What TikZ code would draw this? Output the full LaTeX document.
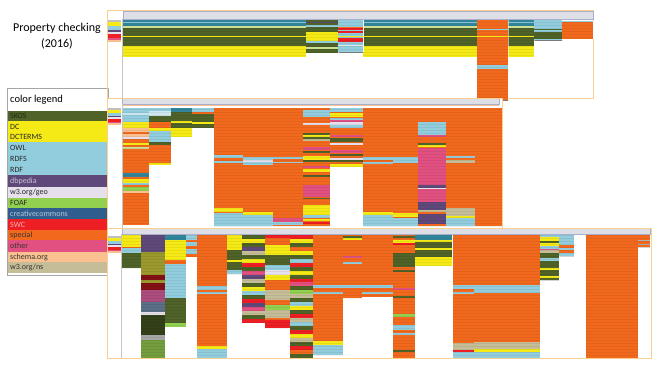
\documentclass[tikz,border=0pt]{standalone}
\usepackage{fontspec}
\setmainfont{Carlito}
\usetikzlibrary{patterns}
\definecolor{skos}{RGB}{79,98,40}
\definecolor{dcy}{RGB}{245,234,22}
\definecolor{owl}{RGB}{146,205,221}
\definecolor{dbp}{RGB}{95,73,122}
\definecolor{geo}{RGB}{230,224,236}
\definecolor{foaf}{RGB}{146,208,80}
\definecolor{cc}{RGB}{47,94,142}
\definecolor{swc}{RGB}{237,30,36}
\definecolor{spec}{RGB}{242,105,30}
\definecolor{oth}{RGB}{225,80,128}
\definecolor{sch}{RGB}{250,192,144}
\definecolor{ns}{RGB}{196,189,151}
\definecolor{tealband}{RGB}{49,133,155}
\definecolor{olv}{RGB}{155,152,45}
\definecolor{paleg}{RGB}{205,225,150}
\definecolor{frm}{RGB}{250,208,145}
\definecolor{hdrgray}{RGB}{222,223,230}
\definecolor{hdrline}{RGB}{170,175,205}

% one column of the sheet: x-left, x-right, y-top, y-bottom, base colour, bands
\newcommand{\datacol}[6]{%
  \fill[fill=#5] (#1,#3) rectangle (#2,#4);
  \foreach \ya/\yb/\cl in {#6}{\fill[fill=\cl] (#1,\ya) rectangle (#2,\yb);}
  \fill[texture] (#1,#3) rectangle (#2,#4);
  \draw[colsep] (#2,#3) -- (#2,#4);
}
% small legend in the left strip of a panel: y-top, band height
\newcommand{\minileg}[2]{%
  \foreach \cl [count=\i] in {gray!50,dcy,dcy,owl,owl,dbp,geo,swc,swc,oth,sch}
    \fill[fill=\cl] (108,{#1+#2*\i-#2}) rectangle (121,{#1+#2*\i});
}

\begin{document}
\begin{tikzpicture}[
  x=1pt, y=-1pt,
  title/.style={font=\fontsize{12}{14}\selectfont, inner sep=0pt},
  leglbl/.style={anchor=west, font=\fontsize{8}{9}\selectfont, inner sep=0pt},
  texture/.style={pattern=horizontal lines, pattern color=black, opacity=0.06},
  colsep/.style={white, opacity=0.55, line width=0.4pt},
  frame/.style={draw=frm, line width=0.9pt},
  hdr/.style={fill=hdrgray, draw=hdrline, line width=0.6pt},
  strip/.style={gray!45, line width=0.6pt},
  legbox/.style={draw=gray!70, line width=0.8pt, fill=white},
]
\useasboundingbox (0,0) rectangle (662,365);

% title
\node[title] (ttl) at (57,28) {Property checking};
\node[title] (yr) at (57,44) {(2016)};

% color legend
\draw[legbox] (7,88) rectangle (108,275);
\node[anchor=west, font=\fontsize{10.5}{12}\selectfont, inner sep=0pt] (legtitle) at (10,100) {color legend};
\foreach \cl/\ya/\yb in {skos/111/121, dcy/121/142, owl/142/175, dbp/175/187, geo/187/198, foaf/198/208,
    cc/208/219, swc/219/230, spec/230/240, oth/240/252, sch/252/262, ns/262/273}
  \fill[fill=\cl] (8,\ya) rectangle (107,\yb);
\foreach \lbl/\y/\tc [count=\i] in {SKOS/116/skos!45!black, DC/126.5/black!85, DCTERMS/137/black!85,
    OWL/147.5/black!85, RDFS/158.5/black!85, RDF/169.5/black!85, dbpedia/181/dbp!35!white,
    {w3.org/geo}/192.5/black!85, FOAF/203/black!85, creativecommons/213.5/cc!35!white,
    SWC/224.5/swc!35!white, special/235/black!80, other/246/black!80,
    schema.org/257/black!80, {w3.org/ns}/267.5/black!80}
  \node[leglbl, text=\tc] (leg\i) at (10,\y) {\lbl};

% top panel
\draw[frame] (107,10) rectangle (593,98);
\foreach \xa/\xb in {123/148,148/173,173/201,201/230,230/256,256/280,280/306,363/392,392/423,423/451,451/477,508/534}
  \datacol{\xa}{\xb}{19}{57}{skos}{19/22/tealband, 22/23/owl, 23/26/tealband, 26/28/paleg, 46/57/dcy}
\datacol{306}{338}{19}{53}{skos}{22/23/dbp, 25/27/owl, 32/41/dcy, 41/43/owl, 47/49/paleg}
\datacol{338}{363}{19}{52}{owl}{27/28/spec, 28/29.5/swc, 31/33/swc, 38/42/swc, 45/46/geo}
\datacol{477}{508}{19}{100}{spec}{28.5/30/owl, 65/69/owl}
\datacol{534}{562}{19}{40}{owl}{29/30/skos, 32/39/skos}
\datacol{562}{593}{21}{39}{spec}{21/22/owl}
\draw[dcy, line width=0.8pt] (123,36) -- (534,36);
\draw[hdr] (123,11) rectangle (593,19);
\draw[strip] (122,19) -- (122,98);
\minileg{20}{2}

% middle panel
\fill[white] (107,98) rectangle (502,228);
\datacol{122}{149}{108}{225}{spec}{108/113/owl, 113/115/owl!50, 115/122/owl, 122/128/dcy, 128/132/sch, 134/137/sch,
  137/139/geo, 143/145/dcy, 147/149/paleg, 173/177/tealband, 179/183/dcy, 183/185/owl, 187/191/foaf, 191/193/sch}
\datacol{149}{171}{108}{165}{spec}{108/111/owl, 111/116/owl!45, 116/122/skos, 128/131/dcy, 131/142/owl, 142/145/skos, 163/165/dcy}
\datacol{171}{192}{108}{137}{skos}{108/112/tealband, 121/123/dcy, 128/137/dcy}
\datacol{192}{214}{108}{128}{skos}{108/112/owl, 112/114/spec, 122/124/dcy}
\datacol{214}{243}{108}{226}{spec}{155/158/owl, 161/163/owl, 208/212/dcy, 213/226/owl}
\datacol{243}{273}{108}{226}{spec}{157/160/owl, 160/162/geo, 162/165/owl, 212/215/dcy, 215/226/owl}
\datacol{273}{303}{108}{226}{spec}{157/159/owl, 162/163/owl, 218/222/oth, 222/225/owl}
\datacol{303}{330}{108}{226}{spec}{110/117/owl, 123/125/geo, 133/135/skos, 135/137/dcy, 137/139/skos, 139/141/ns,
  147/150/oth, 151/153/skos, 156/160/dcy, 160/162/skos, 166/168/oth, 169/172/dcy, 175/177/skos,
  185/197/oth, 198/199/skos, 205/215/dcy, 215/218/owl, 219/221/dcy, 222/224/swc}
\datacol{330}{363}{108}{167}{spec}{108/112/owl, 113/117/dcy, 118/120/owl, 120/122/oth, 122/125/geo, 125/128/owl,
  135/137/oth, 138/142/skos, 143/145/geo, 150/153/oth, 154/156/skos, 158/160/geo, 160/162/skos, 164/167/dcy}
\datacol{363}{393}{108}{226}{spec}{157/160/owl, 162/164/owl, 212/215/dcy, 215/226/owl}
\datacol{393}{418}{108}{226}{spec}{157/163/owl, 213/217/dcy, 218/226/owl}
\datacol{418}{446}{108}{226}{spec}{122/135/owl, 135/137/oth, 143/145/skos, 145/147/dcy, 148/185/oth, 185/188/dbp,
  188/189/geo, 189/202/oth, 202/210/dbp, 210/212/ns, 214/224/dbp}
\datacol{446}{475}{108}{226}{spec}{156/158/owl, 160/163/ns, 208/216/ns, 216/218/dcy, 218/226/owl}
\datacol{475}{502}{108}{226}{spec}{108/109/spec}
\draw[hdr] (122,98) rectangle (499,104);
\draw[sch, line width=0.6pt] (122,105.5) -- (499,105.5);
\draw[strip] (122,104) -- (122,228);
\minileg{108}{1.5}
\draw[frame] (107,98) rectangle (502,228);

% bottom panel
\fill[white] (107,228) rectangle (651,358);
\datacol{121}{141}{235}{268}{skos}{235/247/dcy, 247/248/spec, 248/253/owl}
\datacol{141}{165}{235}{358}{skos!65!black}{235/252/dbp, 252/275/olv, 275/280/swc!55!black, 280/283/olv,
  283/290/swc!55!black, 290/302/oth!60!dbp, 302/312/cc!45!gray, 312/315/geo, 335/340/gray!70, 340/358/foaf!55!skos}
\datacol{165}{186}{235}{327}{owl}{235/240/tealband, 240/260/dcy, 260/264/spec, 298/323/skos, 323/327/foaf}
\datacol{186}{197}{235}{257}{owl}{240/242/spec, 246/249/spec, 254/257/spec}
\datacol{197}{227}{235}{358}{spec}{286/290/owl, 292/294/owl, 346/349/dcy, 349/358/owl}
\datacol{227}{242}{235}{274}{skos}{235/250/dcy, 260/262/dcy, 270/274/owl}
\foreach \cl [count=\i] in {skos,dcy,skos,dbp,ns,skos,dcy,swc,skos,oth,dbp,ns,skos,dcy,owl,skos,swc,dbp,oth,ns,skos,swc}
  \fill[fill=\cl] (242,{231+4*\i}) rectangle (265,{235+4*\i});
\fill[texture] (242,235) rectangle (265,323);
\datacol{265}{290}{235}{328}{spec}{235/238/swc, 245/255/dcy, 255/265/skos, 265/270/owl, 270/275/geo, 275/280/dcy,
  290/300/ns, 305/310/foaf, 310/318/ns, 320/328/swc}
\foreach \cl [count=\i] in {swc,dcy,skos,spec,dcy,skos,owl,swc,skos,dcy,skos,swc,oth,skos,foaf,ns,skos,owl,dcy,skos,
    swc,ns,owl,skos,swc,dcy,ns,skos,swc,spec,skos}
  \fill[fill=\cl] (290,{231+3.96*\i}) rectangle (313,{235+3.96*\i});
\fill[texture] (290,235) rectangle (313,358);
\datacol{313}{343}{235}{355}{spec}{285/288/owl, 292/294/owl, 341/345/dcy, 345/355/owl}
\datacol{343}{362}{235}{298}{spec}{236/238/skos, 238/240/dcy, 256/258/oth, 262/264/owl, 285/288/owl}
\datacol{362}{393}{235}{297}{spec}{285/288/owl, 292/294/owl}
\datacol{393}{415}{235}{358}{spec}{236/238/skos, 240/243/dcy, 243/245/swc, 253/267/skos, 270/272/skos, 288/290/oth,
  296/298/skos, 314/317/foaf, 325/330/owl, 333/335/owl, 350/352/skos}
\datacol{415}{452}{235}{266}{skos}{235/240/tealband, 240/242/dcy, 248/250/dcy, 257/266/dcy}
\datacol{453}{474}{235}{358}{spec}{285/289/owl, 292/294/owl, 343/350/ns, 350/352/swc, 352/358/owl}
\foreach \xa/\xb in {474/496,496/518,518/540}
  \datacol{\xa}{\xb}{235}{358}{spec}{285/293/owl, 342/349/ns, 349/352/dcy, 352/358/owl}
\datacol{540}{559}{235}{280}{skos}{235/237/owl, 237/241/dcy, 243/246/dcy, 246/249/owl, 249/250/oth, 250/253/ns,
  258/261/owl, 268/270/dcy, 276/278/dcy}
\datacol{559}{574}{235}{256}{owl}{245/248/spec, 250/253/spec}
\datacol{586}{612}{235}{358}{spec}{235/236/spec}
\datacol{612}{638}{235}{358}{spec}{235/236/spec}
\datacol{638}{650}{235}{247}{spec}{240/241/gray!60, 244/245/gray!60}
\draw[hdr] (122,228) rectangle (650,234);
\draw[strip] (121,234) -- (121,358);
\minileg{236}{1.5}
\draw[frame] (107,228) rectangle (651,358);
\end{tikzpicture}
\end{document}
